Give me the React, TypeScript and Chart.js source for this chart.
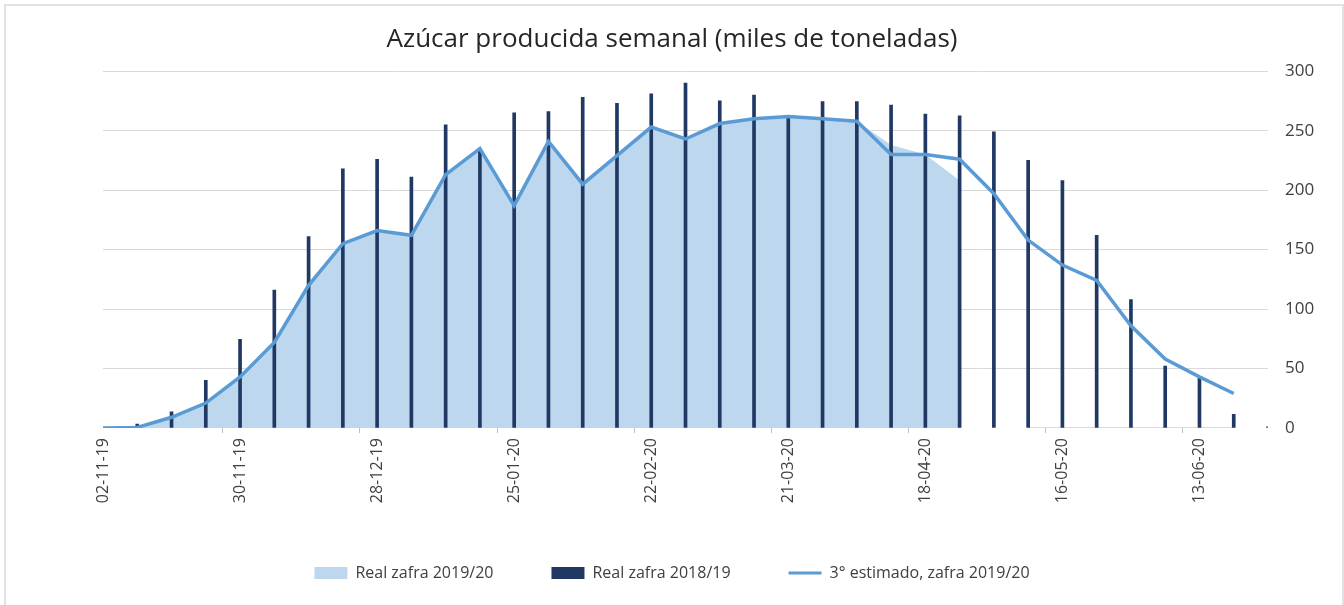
import React, { useEffect, useRef } from 'react';
import { Chart, registerables } from 'chart.js';

Chart.register(...registerables);

const weeks = [
  '02-11-19', '09-11-19', '16-11-19', '23-11-19', '30-11-19', '07-12-19', '14-12-19', '21-12-19',
  '28-12-19', '04-01-20', '11-01-20', '18-01-20', '25-01-20', '01-02-20', '08-02-20', '15-02-20',
  '22-02-20', '29-02-20', '07-03-20', '14-03-20', '21-03-20', '28-03-20', '04-04-20', '11-04-20',
  '18-04-20', '25-04-20', '02-05-20', '09-05-20', '16-05-20', '23-05-20', '30-05-20', '06-06-20',
  '13-06-20', '20-06-20', '27-06-20',
];

const realZafra2019_20 = [
  0, 0, 9, 21, 43, 72, 120, 155, 166, 162, 213, 235, 187, 241, 205, 229, 253, 243, 256, 260,
  262, 260, 258, 238, 230, 208, null, 0, 0, 0, 0, 0, 0, 0, null,
];

const realZafra2018_19 = [
  0, 3.4, 13.7, 40, 74.5, 116, 161, 218, 226, 211, 255, 234, 265, 266, 278, 273, 281, 290, 275, 280,
  263, 274.5, 274.5, 271.5, 264, 262.5, 249, 225, 208, 162, 108, 52, 42, 11.5, 1,
];

const estimado3 = [
  0, 0.5, 9, 21, 43, 72, 120, 155, 166, 162, 213, 235, 187, 241, 205, 229, 253, 243, 256, 260,
  262, 260, 258, 230, 230, 226, 197, 158, 137, 124, 86, 58, 43, 29, null,
];

const seriesNames = ['Real zafra 2019/20', 'Real zafra 2018/19', '3° estimado, zafra 2019/20'];

const FONT = "'Open Sans', sans-serif";
const AREA = '#bdd7ee';
const BAR = '#1f3864';
const LINE = '#5b9bd5';
const TEXT = '#404040';

export default function App() {
  const ref = useRef<HTMLCanvasElement>(null);

  useEffect(() => {
    const canvas = ref.current;
    if (!canvas) return;
    const chart = new Chart(canvas, {
      type: 'bar',
      data: {
        labels: weeks,
        datasets: [
          {
            type: 'line',
            label: seriesNames[0],
            data: realZafra2019_20,
            backgroundColor: AREA,
            borderColor: 'rgba(0,0,0,0)',
            borderWidth: 2,
            fill: 'origin',
            pointRadius: 0,
            tension: 0,
            spanGaps: false,
            order: 3,
            segment: {
              borderColor: (ctx: any) =>
                ctx.p0.parsed.y === 0 && ctx.p1.parsed.y === 0 ? '#d3dce6' : 'rgba(0,0,0,0)',
            },
          } as any,
          {
            type: 'bar',
            label: seriesNames[1],
            data: realZafra2018_19,
            backgroundColor: BAR,
            barThickness: 3,
            order: 2,
          },
          {
            type: 'line',
            label: seriesNames[2],
            data: estimado3,
            borderColor: LINE,
            backgroundColor: LINE,
            borderWidth: 3.5,
            fill: false,
            pointRadius: 0,
            tension: 0,
            order: 1,
          } as any,
        ],
      },
      options: {
        responsive: false,
        animation: false,
        devicePixelRatio: 1,
        layout: { padding: { top: 0, right: 0, bottom: 14, left: 0 } },
        plugins: {
          title: {
            display: true,
            text: 'Azúcar producida semanal (miles de toneladas)',
            color: '#262626',
            font: { family: FONT, size: 26, weight: 'normal' },
            padding: { top: 24, bottom: 16 },
          },
          legend: {
            position: 'bottom',
            labels: {
              usePointStyle: true,
              pointStyleWidth: 33,
              boxHeight: 12,
              padding: 58,
              color: TEXT,
              font: { family: FONT, size: 16 },
              sort: (a: any, b: any) => a.datasetIndex - b.datasetIndex,
              generateLabels: (ch: any) => {
                const items = (Chart.defaults.plugins.legend.labels as any).generateLabels(ch);
                return items.map((it: any) => {
                  if (it.datasetIndex === 2) {
                    return { ...it, pointStyle: 'line', lineWidth: 3, strokeStyle: LINE, fillStyle: LINE };
                  }
                  const c = it.datasetIndex === 0 ? AREA : BAR;
                  return { ...it, pointStyle: 'rect', lineWidth: 0, strokeStyle: c, fillStyle: c };
                });
              },
            },
          },
          tooltip: { enabled: false },
        },
        scales: {
          x: {
            offset: false,
            border: { display: false },
            grid: {
              display: true,
              drawOnChartArea: false,
              drawTicks: true,
              tickLength: 5,
              tickColor: (ctx: any) => (ctx.index % 4 === 0 ? '#bfbfbf' : 'rgba(0,0,0,0)'),
            },
            ticks: {
              autoSkip: false,
              minRotation: 90,
              maxRotation: 90,
              padding: 5,
              color: TEXT,
              font: { family: FONT, size: 16 },
              callback: (_v: any, i: number) => (i % 4 === 0 ? weeks[i] : ''),
            },
            afterFit: (s: any) => {
              s.height = 79;
            },
          },
          y: {
            position: 'right',
            min: 0,
            max: 300,
            border: { display: false },
            grid: {
              drawTicks: false,
              color: (ctx: any) => (ctx.tick && ctx.tick.value === 0 ? 'rgba(0,0,0,0)' : '#d9d9d9'),
              lineWidth: 1,
            },
            ticks: {
              stepSize: 50,
              padding: 17,
              color: TEXT,
              font: { family: FONT, size: 17 },
            },
            afterFit: (s: any) => {
              s.width = 76;
            },
          },
          yL: {
            position: 'left',
            display: true,
            border: { display: false },
            grid: { display: false },
            ticks: { display: false },
            afterFit: (s: any) => {
              s.width = 103;
            },
          },
        },
      } as any,
    });
    return () => chart.destroy();
  }, []);

  return (
    <div style={{ position: 'absolute', left: 0, top: 0, width: 1344, height: 605, overflow: 'hidden', background: '#fff' }}>
      <div
        style={{
          position: 'absolute',
          left: 4,
          top: 4,
          width: 1340,
          height: 720,
          border: '2px solid #e2e2e2',
          boxSizing: 'border-box',
        }}
      />
      <canvas ref={ref} width={1344} height={605} style={{ position: 'absolute', left: 0, top: 0, display: 'block' }} />
    </div>
  );
}
